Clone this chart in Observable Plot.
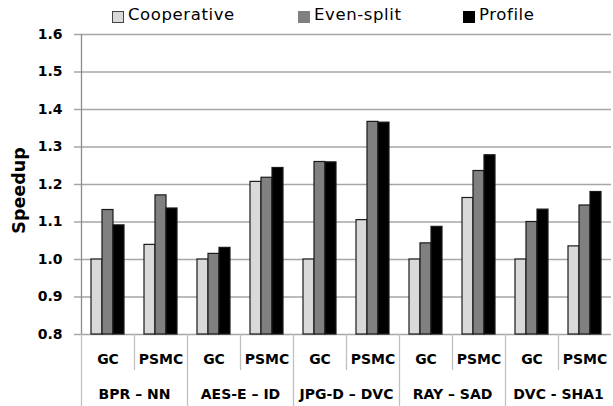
<!DOCTYPE html>
<html>
<head>
<meta charset="utf-8">
<script src="https://cdn.jsdelivr.net/npm/d3@7"></script>
<script src="https://cdn.jsdelivr.net/npm/@observablehq/plot@0.6"></script>
<style>
  html, body { margin: 0; padding: 0; background: #fff; }
  #chart { width: 613px; height: 406px; position: relative; }
  .legend { position: relative; height: 24px; font-family: "DejaVu Sans", sans-serif; font-size: 16.5px; letter-spacing: 0.6px; color: #000; }
  .legend .sw { position: absolute; top: 11px; width: 10px; height: 10px; border: 1px solid #444; }
  .legend .lb { position: absolute; top: 5px; line-height: 20px; white-space: nowrap; }
  svg { display: block; }
</style>
</head>
<body>
<div id="chart"></div>
<script>
// Benchmark pairs, each run on two configurations
const groups = ["BPR – NN", "AES-E – ID", "JPG-D – DVC", "RAY – SAD", "DVC - SHA1"];
const configs = ["GC", "PSMC"];
const series = ["Cooperative", "Even-split", "Profile"];
const colors = ["#d9d9d9", "#808080", "#000000"];

// Speedup per (group, config), in order GC, PSMC for each group
const cooperative = [1.000, 1.039, 1.000, 1.207, 1.000, 1.105, 1.000, 1.164, 1.000, 1.035];
const evenSplit   = [1.132, 1.171, 1.015, 1.218, 1.260, 1.367, 1.043, 1.236, 1.100, 1.144];
const profile     = [1.091, 1.136, 1.031, 1.244, 1.259, 1.365, 1.087, 1.278, 1.133, 1.180];

const yTicks = [0.8, 0.9, 1.0, 1.1, 1.2, 1.3, 1.4, 1.5, 1.6];
const yDomain = [0.8, 1.6];

// Long-format rows for the grouped bars
const keys = groups.flatMap(g => configs.map(c => `${g}|${c}`));
const valuesBySeries = [cooperative, evenSplit, profile];
const rows = [];
keys.forEach((k, i) => {
  series.forEach((s, j) => rows.push({key: k, series: s, value: valuesBySeries[j][i]}));
});
const configOf = k => k.split("|")[1];
const groupStarts = keys.filter(k => configOf(k) === configs[0]);
const groupMiddles = keys.filter(k => configOf(k) !== configs[0]);

// Legend
const legendLeft = [112, 298, 463];
const legend = document.createElement("div");
legend.className = "legend";
series.forEach((s, i) => {
  const sw = document.createElement("div");
  sw.className = "sw";
  sw.style.left = legendLeft[i] + "px";
  sw.style.background = colors[i];
  if (i > 0) sw.style.borderColor = colors[i];
  const lb = document.createElement("div");
  lb.className = "lb";
  lb.style.left = (legendLeft[i] + 16) + "px";
  lb.textContent = s;
  legend.append(sw, lb);
});

const W = 613, H = 382, mTop = 10, mBottom = 72, mLeft = 79, mRight = 0;
const plotH = H - mTop - mBottom;
const gridColor = "#a6a6a6";
const sepColor = "#c0c0c0";

// A plain straight stroke for vector marks
const stem = {draw(context, l) { context.moveTo(0, 0); context.lineTo(0, -l); }};

const chart = Plot.plot({
  width: W,
  height: H,
  marginTop: mTop,
  marginBottom: mBottom,
  marginLeft: mLeft,
  marginRight: mRight,
  style: {fontFamily: "DejaVu Sans, sans-serif", fontSize: "14px", fontWeight: "bold", color: "#000", background: "#fff"},
  fx: {domain: keys, padding: 0, label: null, axis: null},
  x: {domain: series, paddingInner: 0, paddingOuter: 0.77, axis: null},
  y: {domain: yDomain, ticks: yTicks, label: null, axis: null},
  color: {domain: series, range: colors},
  marks: [
    Plot.ruleY(yTicks, {stroke: gridColor, strokeWidth: 1.5}),
    Plot.axisY(yTicks, {
      tickSize: 7, tickPadding: 12, tickFormat: d3.format(".1f"),
      stroke: gridColor, strokeWidth: 1.5, fontSize: 14, fontWeight: "bold", label: null
    }),
    Plot.text(["Speedup"], {
      facet: "super", frameAnchor: "left", textAnchor: "middle", rotate: -90, dx: -62, dy: 6,
      fontSize: 17.5, fontWeight: "bold", fill: "#000"
    }),
    Plot.barY(rows, {
      fx: "key", x: "series", y1: yDomain[0], y2: "value",
      fill: "series", stroke: "#1a1a1a", strokeWidth: 1.2
    }),
    // Value axis line
    Plot.vector([keys[0]], {
      fx: d => d, frameAnchor: "bottom-left", anchor: "start", rotate: 0,
      length: plotH, shape: stem, stroke: "#8c8c8c", strokeWidth: 1.3
    }),
    // Separators between benchmark pairs (full depth of the category axis)
    Plot.vector(groupStarts, {
      fx: d => d, frameAnchor: "bottom-left", anchor: "start", rotate: 180,
      length: 71, shape: stem, stroke: sepColor, strokeWidth: 1.3
    }),
    // Separators between the two configurations of a pair
    Plot.vector(groupMiddles, {
      fx: d => d, frameAnchor: "bottom-left", anchor: "start", rotate: 180,
      length: 35, shape: stem, stroke: sepColor, strokeWidth: 1.3
    }),
    // Configuration labels under each cluster
    Plot.text(keys, {
      fx: d => d, frameAnchor: "bottom", dy: 29,
      text: configOf, fontSize: 14, fontWeight: "bold", fill: "#000"
    }),
    // Benchmark pair labels, centred between the two configurations
    Plot.text(groups, {
      fx: g => `${g}|${configs[0]}`, frameAnchor: "bottom-right", textAnchor: "middle", dy: 64,
      text: d => d, fontSize: 14, fontWeight: "bold", fill: "#000"
    })
  ]
});

const root = document.getElementById("chart");
root.append(legend, chart);
</script>
</body>
</html>
